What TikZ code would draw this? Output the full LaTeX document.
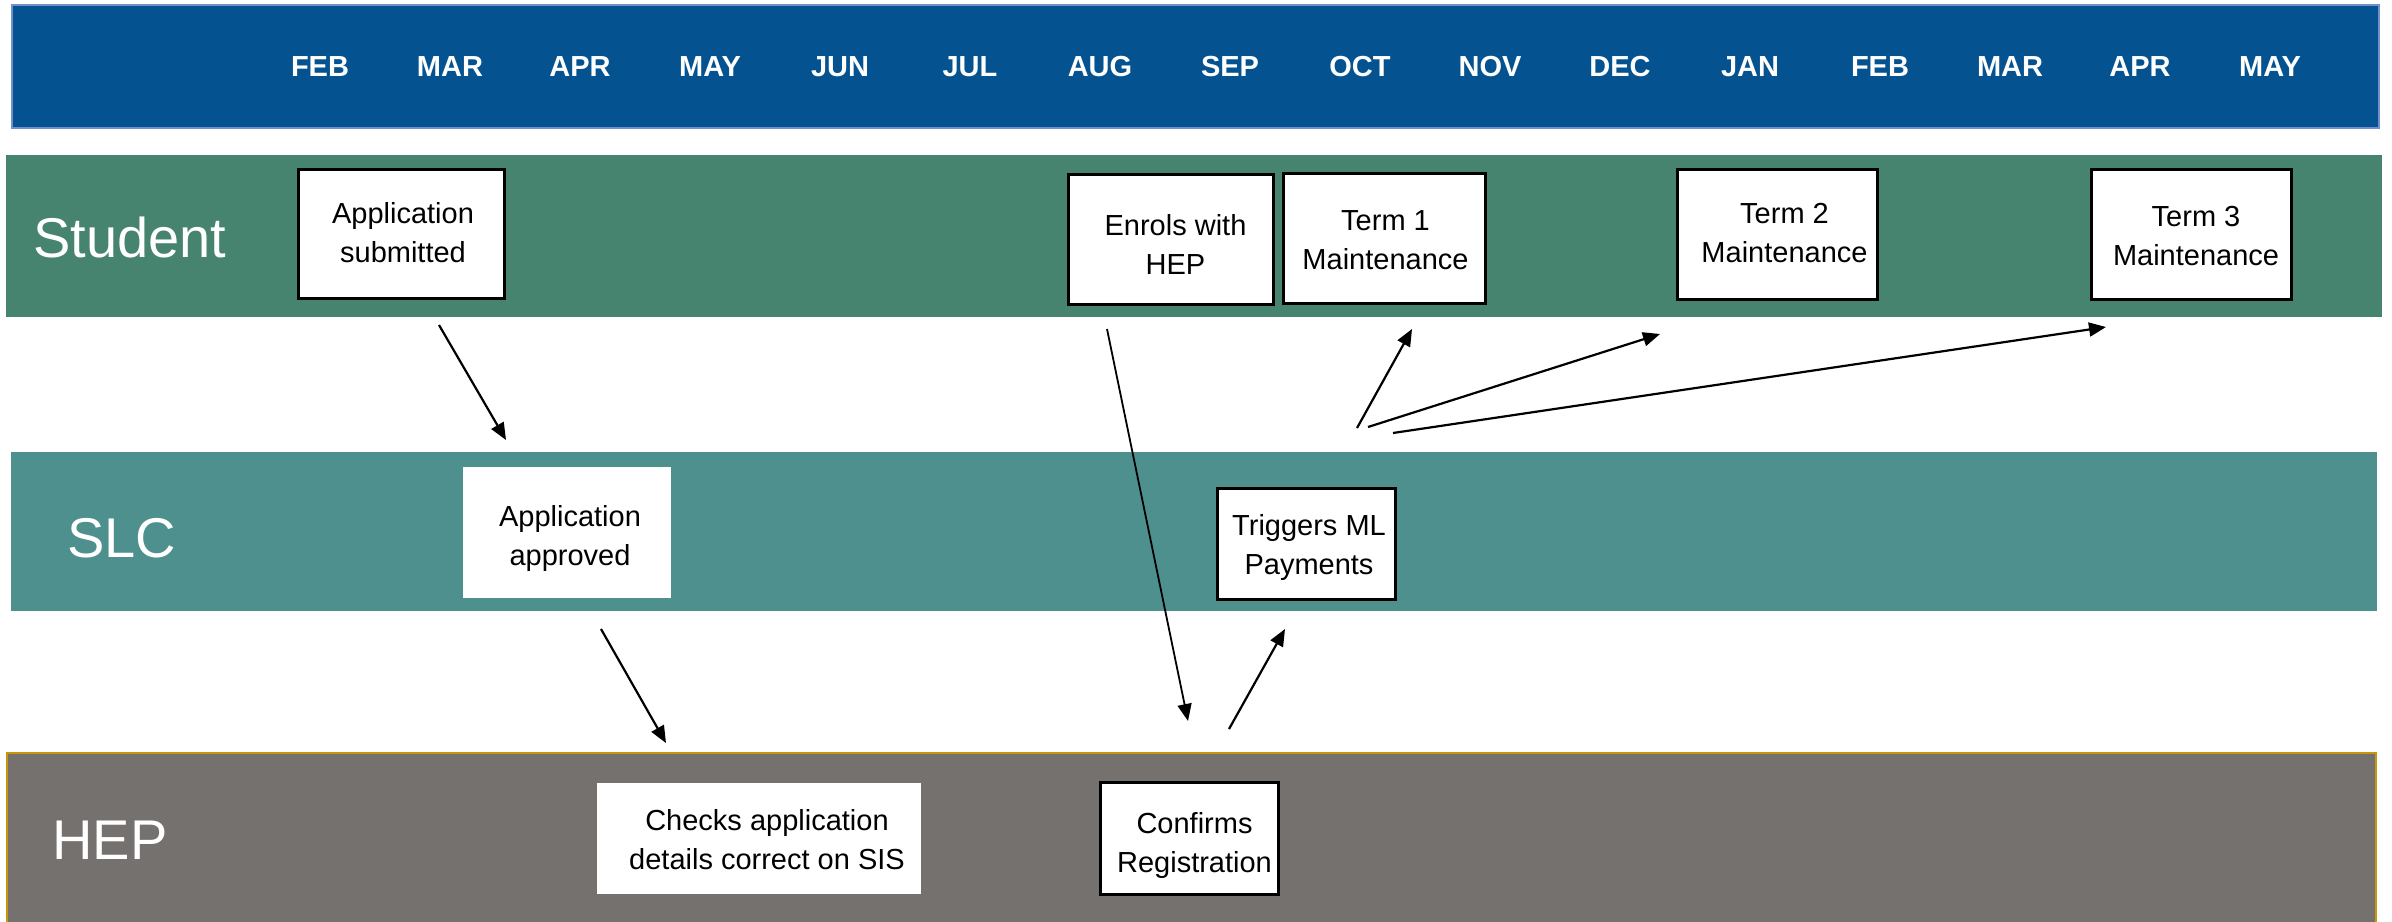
\documentclass[tikz,border=0pt]{standalone}
\usepackage{fontspec}
\setmainfont{Liberation Sans}
\usetikzlibrary{arrows.meta}

\definecolor{hdrblue}{HTML}{04528F}
\definecolor{hdredge}{HTML}{6F8FCF}
\definecolor{studgreen}{HTML}{468470}
\definecolor{slcteal}{HTML}{4E908D}
\definecolor{hepgrey}{HTML}{75716F}
\definecolor{hepgold}{HTML}{C9980A}

\tikzset{
  month/.style={text=white, font=\fontsize{14.5pt}{17pt}\selectfont\bfseries, inner sep=0pt},
  lane/.style={text=white, font=\fontsize{28pt}{32pt}\selectfont, inner sep=0pt, anchor=base west},
  stage/.style={fill=white, inner sep=0pt},
  framed/.style={stage, draw=black, line width=1.5pt},
  caption/.style={align=center, inner sep=0pt, font=\fontsize{14.5pt}{19.5pt}\selectfont},
  flow/.style={line width=1.1pt, -{Triangle[length=8.5pt,width=7pt]}},
}

\begin{document}
\begin{tikzpicture}[x=0.5pt, y=-0.5pt]
\useasboundingbox (0,0) rectangle (2392,921);

% swim-lane bands
\filldraw[fill=hdrblue, draw=hdredge, line width=0.8pt] (12,5) rectangle (2379,128);
\fill[studgreen] (6,155) rectangle (2382,317);
\fill[slcteal] (11,452) rectangle (2377,611);
\filldraw[fill=hepgrey, draw=hepgold, line width=1.1pt] (7,753) rectangle (2376,930);

% month headings
\foreach \m [count=\i from 0] in {FEB,MAR,APR,MAY,JUN,JUL,AUG,SEP,OCT,NOV,DEC,JAN,FEB,MAR,APR,MAY}
  \node[month] (m\i) at (320+130*\i, 67) {\m};

% lane titles
\node[lane] (lstudent) at (33,257) {Student};
\node[lane] (lslc) at (67,557) {SLC};
\node[lane] (lhep) at (52,859) {HEP};

% process step boxes
\node[framed, minimum width=103pt, minimum height=64.5pt] (sub) at (401.5,234) {};
\node[stage, minimum width=104pt, minimum height=65.5pt] (appr) at (567,532.5) {};
\node[stage, minimum width=162pt, minimum height=55.5pt] (chk) at (759,838.5) {};
\node[framed, minimum width=102.5pt, minimum height=65pt] (enrol) at (1171,239.5) {};
\node[framed, minimum width=101pt, minimum height=65pt] (t1) at (1384.5,238.5) {};
\node[framed, minimum width=100pt, minimum height=65pt] (t2) at (1777.5,234.5) {};
\node[framed, minimum width=100pt, minimum height=65pt] (t3) at (2191.5,234.5) {};
\node[framed, minimum width=89pt, minimum height=55.5pt] (trig) at (1306.5,544) {};
\node[framed, minimum width=89pt, minimum height=56pt] (conf) at (1189.5,838.5) {};

% step captions (set slightly right of and below each box centre)
\node[caption] (subText)   at ([shift={(1.5,-1.5)}]sub.center) {Application\\submitted};
\node[caption] (apprText)  at ([shift={(3,6)}]appr.center) {Application\\approved};
\node[caption] (chkText)   at ([shift={(8,1.5)}]chk.center) {Checks application\\details correct on SIS};
\node[caption] (enrolText) at ([shift={(4.5,4.5)}]enrol.center) {Enrols with\\HEP};
\node[caption] (t1Text)    at ([shift={(1,2)}]t1.center) {Term 1\\Maintenance};
\node[caption] (t2Text)    at ([shift={(7,-1.5)}]t2.center) {Term 2\\Maintenance};
\node[caption] (t3Text)    at ([shift={(4.5,1.5)}]t3.center) {Term 3\\Maintenance};
\node[caption] (trigText)  at ([shift={(2.5,3)}]trig.center) {Triggers ML\\Payments};
\node[caption] (confText)  at ([shift={(5,7)}]conf.center) {Confirms\\Registration};

% arrow end points
\coordinate (subOut) at (439,325);
\coordinate (apprIn) at (506,440);
\coordinate (apprOut) at (601,629);
\coordinate (chkIn) at (666,743);
\coordinate (enrolOut) at (1107,329);
\coordinate (confIn) at (1188,721);
\coordinate (confOut) at (1229,729);
\coordinate (trigIn) at (1285,629);
\coordinate (trigOutA) at (1357,428);
\coordinate (trigOutB) at (1368,427);
\coordinate (trigOutC) at (1393,433);
\coordinate (tAIn) at (1412,329);
\coordinate (tBIn) at (1660,334);
\coordinate (tCIn) at (2106,327);

% connectors
\draw[flow] (subOut) -- (apprIn);
\draw[flow] (apprOut) -- (chkIn);
\draw[flow, line width=0.9pt] (enrolOut) -- (confIn);
\draw[flow] (confOut) -- (trigIn);
\draw[flow] (trigOutA) -- (tAIn);
\draw[flow] (trigOutB) -- (tBIn);
\draw[flow] (trigOutC) -- (tCIn);
\end{tikzpicture}
\end{document}
